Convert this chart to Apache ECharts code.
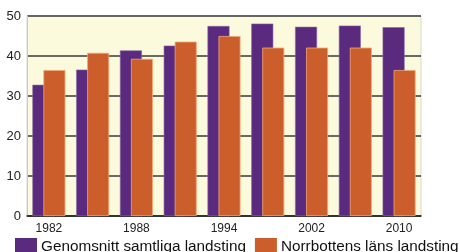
<!DOCTYPE html>
<html>
<head>
<meta charset="utf-8">
<script src="https://cdn.jsdelivr.net/npm/echarts@6/dist/echarts.min.js"></script>
<style>
  html, body { margin: 0; padding: 0; background: #fff; }
  #chart { width: 460px; height: 252px; }
</style>
</head>
<body>
<div id="chart"></div>
<script>
// år (etiketter visas för vartannat)
const years = ['1982', '1985', '1988', '1991', '1994', '1998', '2002', '2006', '2010'];
const samtliga = [32.8, 36.6, 41.4, 42.6, 47.5, 48.1, 47.3, 47.6, 47.2];
const norrbotten = [36.5, 40.8, 39.3, 43.6, 45.0, 42.1, 42.1, 42.1, 36.5];
const seriesNames = ['Genomsnitt samtliga landsting', 'Norrbottens läns landsting'];

const myChart = echarts.init(document.getElementById('chart'));

const option = {
    animation: false,
    textStyle: { fontFamily: 'Liberation Sans, Arial, sans-serif' },
    grid: {
        left: 27,
        right: 39,
        top: 16,
        bottom: 36,
        show: true,
        backgroundColor: '#fcfadc',
        borderColor: '#d8d8d8',
        borderWidth: 1
    },
    legend: {
        left: 15,
        top: 238,
        width: 480,
        padding: 0,
        itemWidth: 22,
        itemHeight: 17,
        itemGap: 9,
        icon: 'rect',
        itemStyle: { borderWidth: 0 },
        textStyle: { fontSize: 15.3, color: '#111', padding: [0, 0, 3, -1] },
        data: seriesNames
    },
    xAxis: {
        type: 'category',
        data: years,
        axisLine: { show: true, lineStyle: { color: '#222', width: 1.5 } },
        axisTick: { show: false },
        axisLabel: {
            interval: 1,
            margin: 7,
            fontSize: 12,
            color: '#222'
        }
    },
    yAxis: {
        type: 'value',
        min: 0,
        max: 50,
        interval: 10,
        axisLine: { show: true, lineStyle: { color: '#c8c8c8' } },
        axisTick: { show: false },
        axisLabel: { margin: 6, fontSize: 13, color: '#222' },
        splitLine: { show: true, lineStyle: { color: '#3a3a3a', width: 1.5 } }
    },
    series: [
        {
            name: seriesNames[0],
            type: 'bar',
            data: samtliga,
            barWidth: 22,
            barGap: '-50%',
            itemStyle: { color: '#5a2a7e', borderColor: '#8a6aa6', borderWidth: 0.6 }
        },
        {
            name: seriesNames[1],
            type: 'bar',
            data: norrbotten,
            barWidth: 22,
            itemStyle: { color: '#cc5e2c', borderColor: '#f0a878', borderWidth: 0.8 }
        }
    ]
};
myChart.setOption(option);
</script>
</body>
</html>
